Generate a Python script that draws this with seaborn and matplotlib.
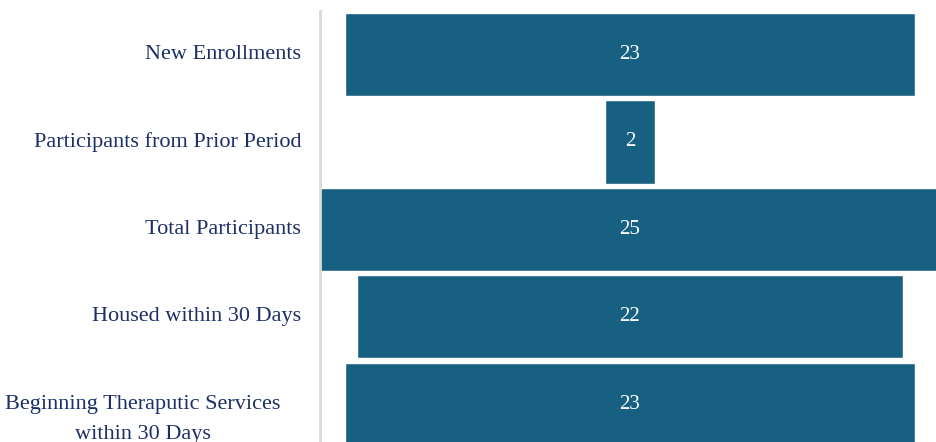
import matplotlib
matplotlib.use("Agg")
import matplotlib.pyplot as plt
import matplotlib.transforms as mtransforms
import seaborn as sns
import pandas as pd

# Funnel values
stages = ["New Enrollments", "Participants from Prior Period", "Total Participants",
          "Housed within 30 Days", "Beginning Theraputic Services\nwithin 30 Days"]
counts = [23, 2, 25, 22, 23]

bar_color = "#186082"
label_color = "#1c2f66"

df = pd.DataFrame({"stage": stages, "count": counts})
top = max(counts)

sns.set_style("white")
plt.rcParams["font.family"] = ["Liberation Serif", "DejaVu Serif"]

fig = plt.figure(figsize=(9.36, 4.42), dpi=100)
# axes runs a little past the right edge, so the widest bar is clipped like the original
ax = fig.add_axes([320 / 936, 0, 620 / 936, 1 - 10.75 / 442])

sns.barplot(data=df, x="count", y="stage", color=bar_color, saturation=1,
            width=0.95, ax=ax)

# centre each bar to get the funnel look
for patch, v in zip(ax.patches, counts):
    patch.set_x((top - v) / 2)
    ax.text((top - v) / 2 + v / 2, patch.get_y() + patch.get_height() / 2, str(v),
            ha="center", va="center", color="white", fontsize=15)

ax.set_xlim(0, top)
ax.set_ylim(4.43, -0.5)
ax.set_xticks([])
ax.set_yticks([])
ax.set_xlabel("")
ax.set_ylabel("")
for s in ["top", "right", "bottom"]:
    ax.spines[s].set_visible(False)
ax.spines["left"].set_color("#d9d9d9")
ax.spines["left"].set_linewidth(2)

# category labels
trans = mtransforms.blended_transform_factory(fig.transFigure, ax.transData)
for i, name in enumerate(stages):
    if "\n" in name:
        ax.text(143 / 936, i + 0.17, name, transform=trans, ha="center", va="center",
                multialignment="center", color=label_color, fontsize=16,
                linespacing=1.75)
    else:
        ax.text(301 / 936, i, name, transform=trans, ha="right", va="center",
                color=label_color, fontsize=16)

fig.savefig("out.png", dpi=100)
